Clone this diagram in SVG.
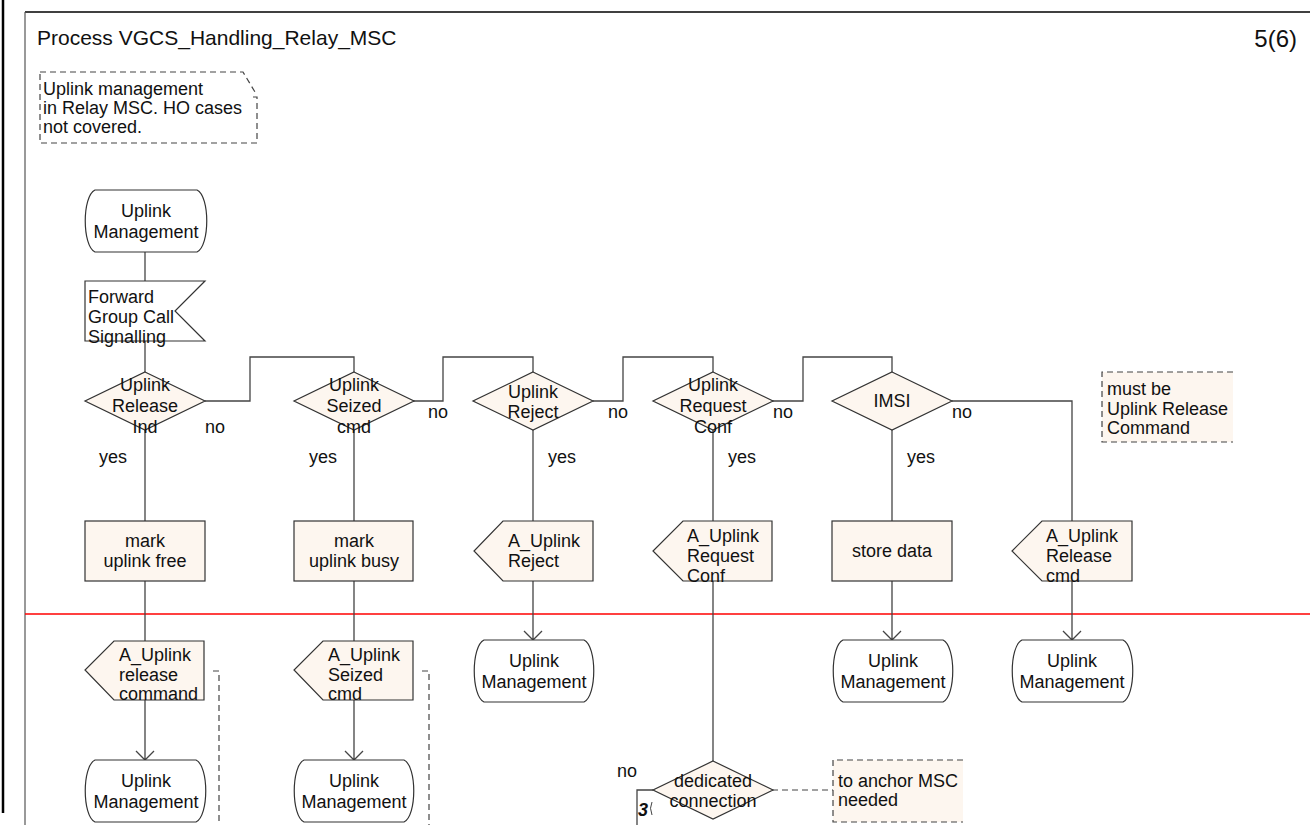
<svg xmlns="http://www.w3.org/2000/svg" width="1310" height="825" viewBox="0 0 1310 825">
<defs>
<style>
text{font-family:"Liberation Sans",Arial,sans-serif;font-size:18px;fill:#111}
.c{text-anchor:middle}
.t{font-size:21px}
.p{font-size:24px}
.sh{fill:#fdf6ef;stroke:#333;stroke-width:1.2}
.st{fill:#fff;stroke:#333;stroke-width:1.2}
.ln{fill:none;stroke:#444;stroke-width:1.3}
.ds{fill:none;stroke:#444;stroke-width:1.2;stroke-dasharray:6,4}
.nf{fill:#fdf6ef;stroke:none}
</style>
</defs>
<rect x="0" y="0" width="1310" height="825" fill="#fff"/>
<g id="frame">
<line x1="3" y1="0" x2="3" y2="813" stroke="#000" stroke-width="2.5"/>
<line x1="25" y1="12" x2="1310" y2="12" stroke="#000" stroke-width="1.3"/>
<line x1="25" y1="12" x2="25" y2="825" stroke="#555" stroke-width="1.2"/>
<line x1="25" y1="614" x2="1310" y2="614" stroke="#f00" stroke-width="1.6"/>
<text class="t" x="37" y="45">Process VGCS_Handling_Relay_MSC</text>
<text class="p" x="1297" y="47" text-anchor="end">5(6)</text>
</g>
<g id="note_top">
<path class="ds" d="M40,72 H243 L255,92 M253,97 H257 V143 H40 V72"/>
<text x="43" y="95">Uplink management</text>
<text x="43" y="114">in Relay MSC. HO cases</text>
<text x="43" y="133">not covered.</text>
</g>
<g id="connectors">
<path class="ln" d="M145,252 V281"/>
<path class="ln" d="M145,341 V372"/>
<path class="ln" d="M205,401 H250 V357 H354 V372"/>
<path class="ln" d="M413,401 H443 V357 H533 V372"/>
<path class="ln" d="M593,401 H623 V357 H713 V372"/>
<path class="ln" d="M772,401 H803 V357 H892 V372"/>
<path class="ln" d="M952,401 H1072 V521"/>
<path class="ln" d="M145,430 V521 M145,581 V641"/>
<path class="ln" d="M145,700 V760 M136,751 L145,760 L154,751"/>
<path class="ln" d="M354,430 V521 M354,581 V641"/>
<path class="ln" d="M354,700 V760 M345,751 L354,760 L363,751"/>
<path class="ln" d="M533,430 V521"/>
<path class="ln" d="M533,581 V640 M524,631 L533,640 L542,631"/>
<path class="ln" d="M713,430 V521 M713,581 V761"/>
<path class="ln" d="M892,430 V521"/>
<path class="ln" d="M892,581 V640 M883,631 L892,640 L901,631"/>
<path class="ln" d="M1072,581 V640 M1063,631 L1072,640 L1081,631"/>
<path class="ln" d="M653,790 H637 V825"/>
<path class="ds" d="M772,790 H833"/>
<path class="ds" d="M213,671 H219 V825"/>
<path class="ds" d="M422,671 H429 V825"/>
</g>
<g id="start_state">
<path class="st" d="M95,190 H197 C210,196 210,246 197,252 H95 C82,246 82,196 95,190 Z"/>
<text class="c" x="146" y="217">Uplink</text>
<text class="c" x="146" y="238">Management</text>
</g>
<g id="input_forward">
<path class="st" d="M85,281 H205 L175,311 L205,341 H85 Z"/>
<text x="88" y="303">Forward</text>
<text x="88" y="323">Group Call</text>
<text x="88" y="343">Signalling</text>
</g>
<g id="dec_release_ind">
<path class="sh" d="M145,372 L205,401 L145,430 L85,401 Z"/>
<text class="c" x="145" y="391">Uplink</text>
<text class="c" x="145" y="412">Release</text>
<text class="c" x="145" y="433">Ind</text>
<text x="205" y="433">no</text>
<text x="99" y="463">yes</text>
</g>
<g id="dec_seized_cmd">
<path class="sh" d="M354,372 L414,401 L354,430 L294,401 Z"/>
<text class="c" x="354" y="391">Uplink</text>
<text class="c" x="354" y="412">Seized</text>
<text class="c" x="354" y="433">cmd</text>
<text x="428" y="418">no</text>
<text x="309" y="463">yes</text>
</g>
<g id="dec_reject">
<path class="sh" d="M533,372 L593,401 L533,430 L473,401 Z"/>
<text class="c" x="533" y="398">Uplink</text>
<text class="c" x="533" y="418">Reject</text>
<text x="608" y="418">no</text>
<text x="548" y="463">yes</text>
</g>
<g id="dec_request_conf">
<path class="sh" d="M713,372 L773,401 L713,430 L653,401 Z"/>
<text class="c" x="713" y="391">Uplink</text>
<text class="c" x="713" y="412">Request</text>
<text class="c" x="713" y="433">Conf</text>
<text x="773" y="418">no</text>
<text x="728" y="463">yes</text>
</g>
<g id="dec_imsi">
<path class="sh" d="M892,372 L952,401 L892,430 L832,401 Z"/>
<text class="c" x="892" y="407">IMSI</text>
<text x="952" y="418">no</text>
<text x="907" y="463">yes</text>
</g>
<g id="note_must_be">
<rect class="nf" x="1102" y="372" width="131" height="70"/>
<path class="ds" d="M1233,372 H1102 V442 H1233"/>
<text x="1107" y="395">must be</text>
<text x="1107" y="415">Uplink Release</text>
<text x="1107" y="434">Command</text>
</g>
<g id="task_free">
<rect class="sh" x="85" y="521" width="120" height="60"/>
<text class="c" x="145" y="547">mark</text>
<text class="c" x="145" y="567">uplink free</text>
</g>
<g id="task_busy">
<rect class="sh" x="294" y="521" width="119" height="60"/>
<text class="c" x="354" y="547">mark</text>
<text class="c" x="354" y="567">uplink busy</text>
</g>
<g id="out_reject">
<path class="sh" d="M503,521 H593 V581 H503 L474,551 Z"/>
<text x="508" y="547">A_Uplink</text>
<text x="508" y="567">Reject</text>
</g>
<g id="out_request_conf">
<path class="sh" d="M683,521 H772 V581 H683 L653,551 Z"/>
<text x="687" y="542">A_Uplink</text>
<text x="687" y="562">Request</text>
<text x="687" y="582">Conf</text>
</g>
<g id="task_store">
<rect class="sh" x="832" y="521" width="120" height="60"/>
<text class="c" x="892" y="557">store data</text>
</g>
<g id="out_release_cmd">
<path class="sh" d="M1042,521 H1132 V581 H1042 L1012,551 Z"/>
<text x="1046" y="542">A_Uplink</text>
<text x="1046" y="562">Release</text>
<text x="1046" y="582">cmd</text>
</g>
<g id="out_release_command">
<path class="sh" d="M114,641 H204 V700 H114 L85,670 Z"/>
<text x="119" y="661">A_Uplink</text>
<text x="119" y="681">release</text>
<text x="119" y="700">command</text>
</g>
<g id="out_seized_cmd">
<path class="sh" d="M323,641 H413 V700 H323 L294,670 Z"/>
<text x="328" y="661">A_Uplink</text>
<text x="328" y="681">Seized</text>
<text x="328" y="700">cmd</text>
</g>
<g id="state_reject">
<path class="st" d="M484,640 H584 C597,646 597,696 584,702 H484 C471,696 471,646 484,640 Z"/>
<text class="c" x="534" y="667">Uplink</text>
<text class="c" x="534" y="688">Management</text>
</g>
<g id="state_store">
<path class="st" d="M843,640 H943 C956,646 956,696 943,702 H843 C830,696 830,646 843,640 Z"/>
<text class="c" x="893" y="667">Uplink</text>
<text class="c" x="893" y="688">Management</text>
</g>
<g id="state_release">
<path class="st" d="M1022,640 H1123 C1136,646 1136,696 1123,702 H1022 C1009,696 1009,646 1022,640 Z"/>
<text class="c" x="1072" y="667">Uplink</text>
<text class="c" x="1072" y="688">Management</text>
</g>
<g id="state_free">
<path class="st" d="M95,760 H196 C209,766 209,816 196,822 H95 C82,816 82,766 95,760 Z"/>
<text class="c" x="146" y="787">Uplink</text>
<text class="c" x="146" y="808">Management</text>
</g>
<g id="state_busy">
<path class="st" d="M304,760 H404 C417,766 417,816 404,822 H304 C291,816 291,766 304,760 Z"/>
<text class="c" x="354" y="787">Uplink</text>
<text class="c" x="354" y="808">Management</text>
</g>
<g id="dec_dedicated">
<path class="sh" d="M713,761 L773,790 L713,819 L653,790 Z"/>
<text class="c" x="713" y="787">dedicated</text>
<text class="c" x="713" y="807">connection</text>
<text x="617" y="777">no</text>
<text x="638" y="816" style="font-weight:bold;font-style:italic">3</text>
<path d="M652,802 Q649,808 652,815" fill="none" stroke="#444" stroke-width="1"/>
</g>
<g id="note_anchor">
<rect class="nf" x="833" y="760" width="130" height="62"/>
<path class="ds" d="M963,760 H833 V822 H963"/>
<text x="838" y="787">to anchor MSC</text>
<text x="838" y="806">needed</text>
</g>
</svg>
